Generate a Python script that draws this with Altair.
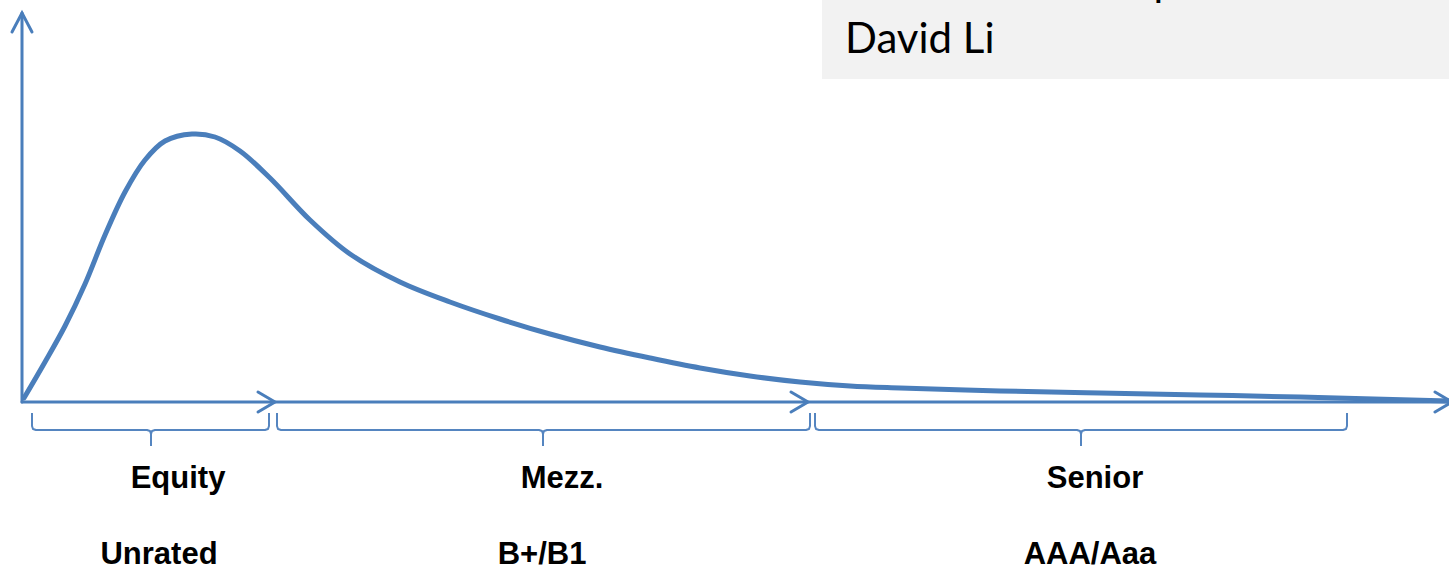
import altair as alt
import pandas as pd

# Loss distribution of the collateral pool (loss on x, density on y)
loss = [2, 23, 43, 63, 83, 103, 123, 143, 170, 193, 218, 248, 288, 328, 378,
        428, 478, 528, 578, 628, 678, 728, 778, 828, 878, 978, 1078, 1178, 1278, 1427]
density = [4, 40, 76, 118, 167, 210, 242, 261, 268, 265, 251, 224, 182, 148, 120,
           100, 83, 68, 55, 44, 34, 26, 20, 16, 14, 11, 9, 7, 5, 1]

# Tranches: start, end, brace tip, name, rating
tranche_start = [10, 255, 793]
tranche_end = [247, 788, 1325]
tranche_mid = [129, 521, 1059]
tranche_name = ["Equity", "Mezz.", "Senior"]
tranche_name_x = [156, 540, 1073]
tranche_rating = ["Unrated", "B+/B1", "AAA/Aaa"]
tranche_rating_x = [137, 520, 1068]

# Arrow tips along the loss axis (tranche attachment points)
arrow_tips = [253, 786, 1430]

BLUE = "#4a7ebb"
BRACE = "#5585c0"

X = alt.Scale(domain=[-22, 1427], nice=False, zero=False)
Y = alt.Scale(domain=[-164, 402], nice=False, zero=False)

curve_df = pd.DataFrame({"loss": loss, "density": density})

# Axis lines and arrowheads
seg = []
def add(group, pts):
    for i, (x, y) in enumerate(pts):
        seg.append({"g": group, "o": i, "x": x, "y": y})

add("yaxis", [(0, 0), (0, 389)])
add("xaxis", [(0, 0), (1430, 0)])
add("yhead", [(-10, 370), (0, 389), (10, 370)])
for k, t in enumerate(arrow_tips):
    add(f"xhead{k}", [(t - 17, 10), (t, 0), (t - 17, -10)])
axes_df = pd.DataFrame(seg)

# Braces under each tranche
br = []
def add_b(group, pts):
    for i, (x, y) in enumerate(pts):
        br.append({"g": group, "o": i, "x": x, "y": y})

for k in range(3):
    a, b, c = tranche_start[k], tranche_end[k], tranche_mid[k]
    add_b(f"L{k}", [(a, -11), (a, -24), (a + 1, -27), (a + 4, -28),
                    (c - 4, -28), (c - 1, -29), (c, -32), (c, -44)])
    add_b(f"R{k}", [(b, -11), (b, -24), (b - 1, -27), (b - 4, -28),
                    (c + 4, -28), (c + 1, -29), (c, -32), (c, -44)])
brace_df = pd.DataFrame(br)

enc_line = dict(
    x=alt.X("x:Q", scale=X, axis=None),
    y=alt.Y("y:Q", scale=Y, axis=None),
    detail="g:N",
    order="o:Q",
)

axes_layer = alt.Chart(axes_df).mark_line(
    color=BLUE, strokeWidth=3, strokeCap="round", strokeJoin="miter"
).encode(**enc_line)

brace_layer = alt.Chart(brace_df).mark_line(
    color=BRACE, strokeWidth=2, strokeJoin="round"
).encode(**enc_line)

curve_layer = alt.Chart(curve_df).mark_line(
    color=BLUE, strokeWidth=5, interpolate="catmull-rom", strokeCap="round"
).encode(
    x=alt.X("loss:Q", scale=X, axis=None),
    y=alt.Y("density:Q", scale=Y, axis=None),
)

# Caption box in the top right corner
box_df = pd.DataFrame({"x": [800], "x2": [1427], "y": [323], "y2": [402]})
box_layer = alt.Chart(box_df).mark_rect(color="#f2f2f2").encode(
    x=alt.X("x:Q", scale=X, axis=None), x2="x2:Q",
    y=alt.Y("y:Q", scale=Y, axis=None), y2="y2:Q",
)

caption_df = pd.DataFrame({"x": [823, 823], "y": [349, 406],
                           "t": ["David Li", "The Gaussian Copula"]})
caption_layer = alt.Chart(caption_df).mark_text(
    font="Lato", fontSize=42, align="left", baseline="alphabetic",
    color="#000000", clip=True
).encode(
    x=alt.X("x:Q", scale=X, axis=None),
    y=alt.Y("y:Q", scale=Y, axis=None),
    text="t:N",
)

labels_df = pd.DataFrame({
    "x": tranche_name_x + tranche_rating_x,
    "y": [-86] * 3 + [-162] * 3,
    "t": tranche_name + tranche_rating,
})
labels_layer = alt.Chart(labels_df).mark_text(
    font="Liberation Sans", fontSize=31, fontWeight="bold",
    align="center", baseline="alphabetic", color="#000000"
).encode(
    x=alt.X("x:Q", scale=X, axis=None),
    y=alt.Y("y:Q", scale=Y, axis=None),
    text="t:N",
)

chart = alt.layer(
    box_layer, caption_layer, axes_layer, brace_layer, curve_layer, labels_layer
).properties(
    width=1449, height=566, padding=0, autosize=alt.AutoSizeParams(type="none"),
    background="white",
).configure_view(stroke=None)

chart.save("out.html", embed_options={"renderer": "svg", "actions": False})
